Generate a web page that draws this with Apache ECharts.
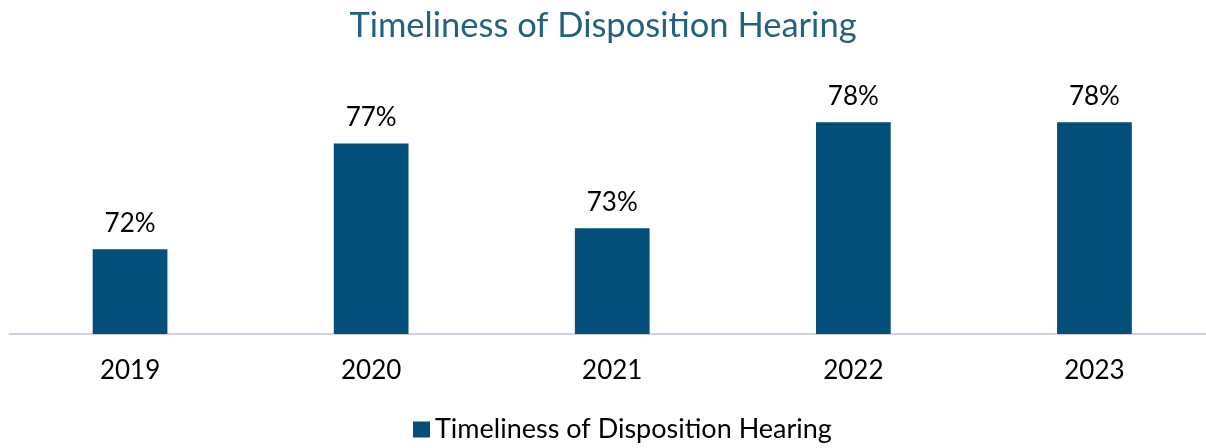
<!DOCTYPE html>
<html>
<head>
<meta charset="utf-8">
<script src="https://cdn.jsdelivr.net/npm/echarts@6/dist/echarts.min.js"></script>
<style>
  html, body { margin: 0; padding: 0; background: #fff; }
  #chart { width: 1206px; height: 448px; }
</style>
</head>
<body>
<div id="chart"></div>
<script>
  // data
  const years = ['2019', '2020', '2021', '2022', '2023'];
  const timeliness = [72, 77, 73, 78, 78];
  const seriesName = 'Timeliness of Disposition Hearing';

  const font = 'Lato, "Open Sans", sans-serif';

  var myChart = echarts.init(document.getElementById('chart'));

  var option = {
    animation: false,
    title: {
      text: 'Timeliness of Disposition Hearing',
      left: 'center',
      top: 3,
      textStyle: { fontFamily: font, fontWeight: 'normal', fontSize: 34.5, color: '#23627f' }
    },
    legend: {
      bottom: 0,
      left: 408,
      itemWidth: 17,
      itemHeight: 16,
      itemGap: 8,
      icon: 'rect',
      textStyle: { fontFamily: font, fontSize: 27, color: '#000' },
      data: [seriesName]
    },
    grid: {
      left: 9.5, width: 1205.5, top: 80, bottom: 114,
      containLabel: false, outerBoundsMode: 'none'
    },
    xAxis: {
      type: 'category',
      data: years,
      axisLine: { lineStyle: { color: '#d3cfea', width: 2 } },
      axisTick: { show: false },
      axisLabel: { fontFamily: font, fontSize: 26, color: '#000', margin: 24 }
    },
    yAxis: {
      type: 'value',
      min: 68,
      max: 80,
      show: false,
      splitLine: { show: false }
    },
    series: [
      {
        name: seriesName,
        type: 'bar',
        data: timeliness,
        barWidth: '31%',
        itemStyle: { color: '#02507a' },
        label: {
          show: true,
          position: 'top',
          distance: 13,
          formatter: '{c}%',
          fontFamily: font,
          fontSize: 26,
          color: '#000'
        }
      }
    ]
  };
  myChart.setOption(option);
</script>
</body>
</html>
